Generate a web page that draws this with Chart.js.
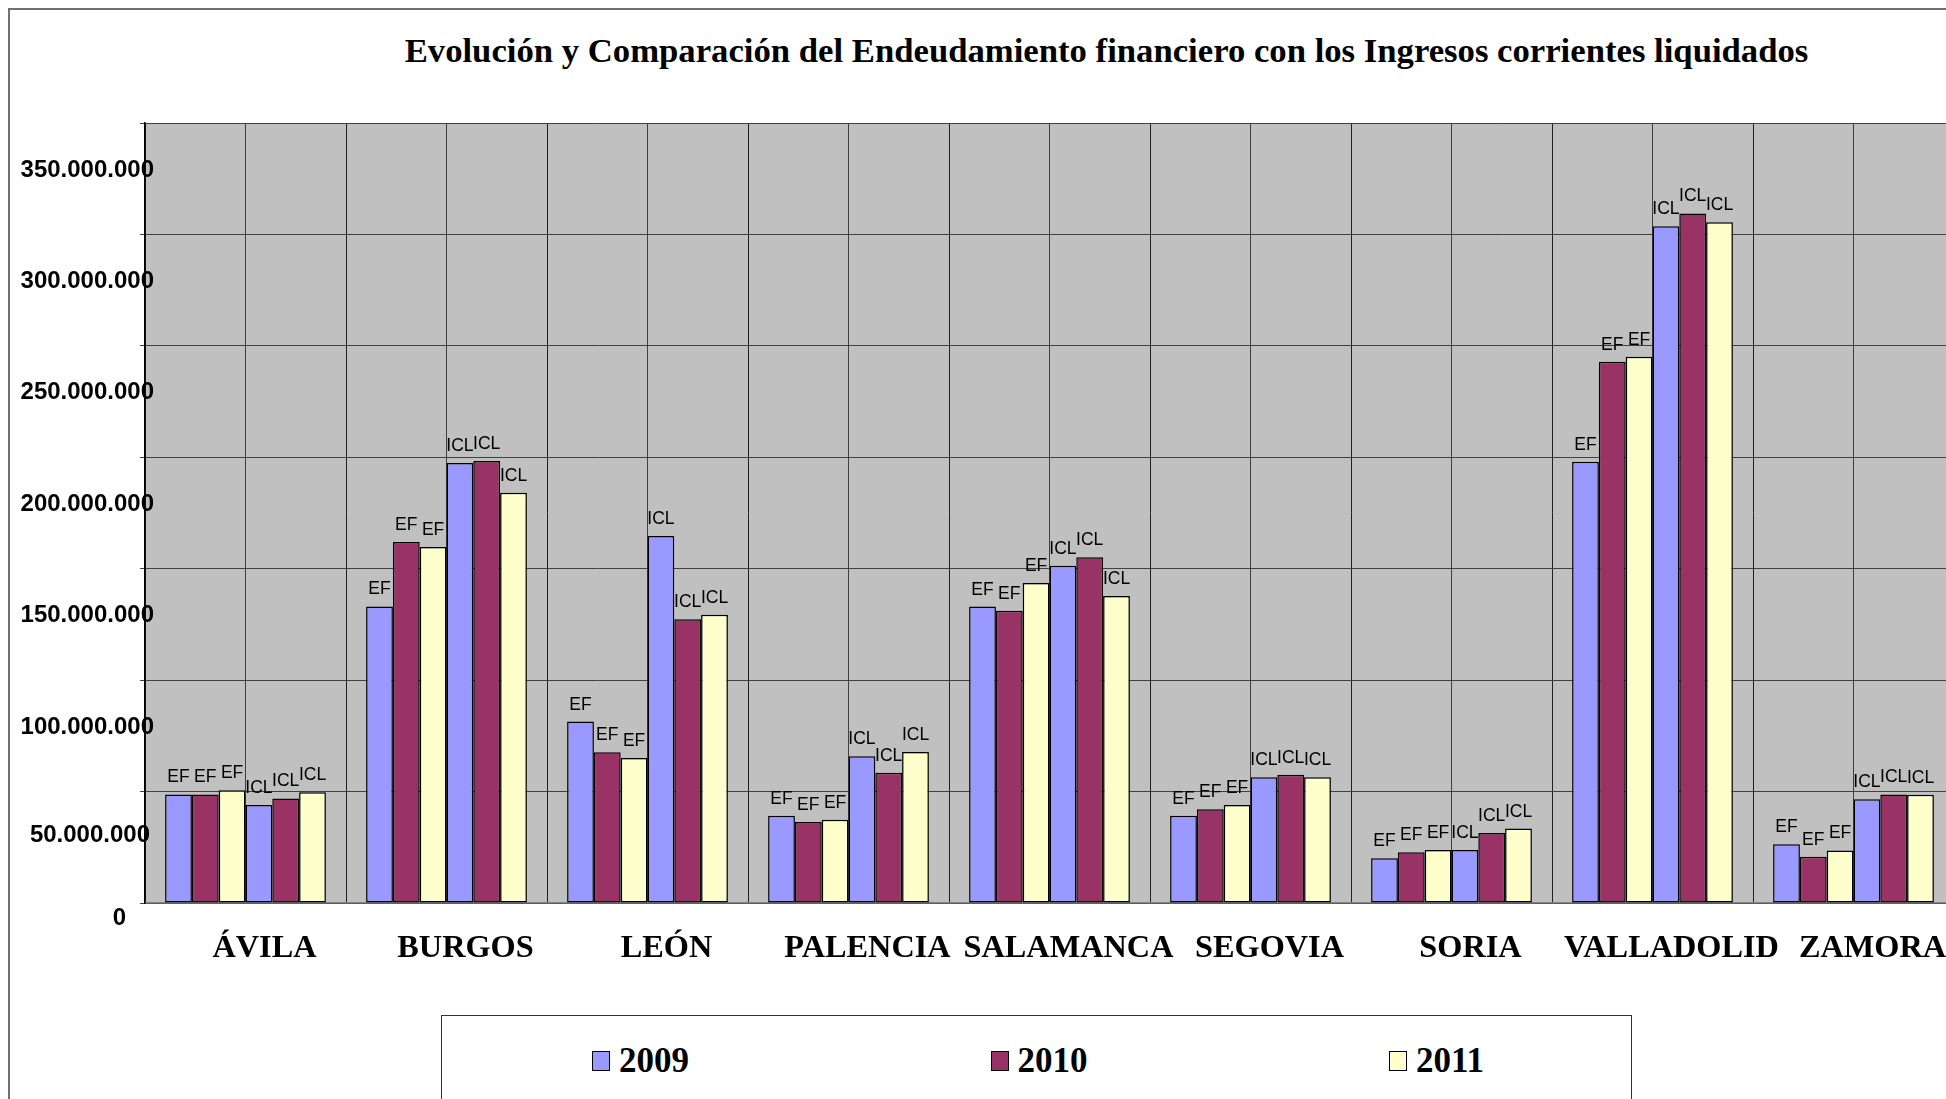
<!DOCTYPE html>
<html lang="es">
<head>
<meta charset="UTF-8">
<title>Evolución y Comparación del Endeudamiento financiero</title>
<script src="https://cdn.jsdelivr.net/npm/chart.js"></script>
<style>
    html, body { margin: 0; padding: 0; background: #fff; width: 1946px; height: 1099px; overflow: hidden; }
    #marco { position: absolute; left: 8px; top: 8px; width: 2300px; height: 1300px; border-left: 2px solid #707070; border-top: 2px solid #707070; }
    #titulo { position: absolute; left: 0; top: 31px; width: 2213px; text-align: center; line-height: 35px;
              font: bold 34.7px "Liberation Serif", "Times New Roman", serif; color: #000; white-space: nowrap; }
    canvas { position: absolute; left: 0; top: 0; }
    #leyenda { position: absolute; left: 441px; top: 1015px; width: 1191px; height: 200px; box-sizing: border-box;
               border: 1.5px solid #333; background: #fff; }
    .item { position: absolute; top: 25px; display: flex; align-items: center; line-height: 35px;
            font: bold 35px "Liberation Serif", "Times New Roman", serif; color: #000; }
    .muestra { width: 18px; height: 20px; box-sizing: border-box; border: 1.5px solid #000; margin-right: 9px; }
</style>
</head>
<body>
<div id="marco"></div>
<div id="titulo">Evolución y Comparación del Endeudamiento financiero con los Ingresos corrientes liquidados</div>
<canvas id="grafico" width="2100" height="1099"></canvas>
<div id="leyenda"></div>

<script>
    // datos (euros)
    const provincias = ['ÁVILA', 'BURGOS', 'LEÓN', 'PALENCIA', 'SALAMANCA', 'SEGOVIA', 'SORIA', 'VALLADOLID', 'ZAMORA'];
    const anios = ['2009', '2010', '2011'];
    const colores = ['#9999FF', '#993366', '#FFFFCC'];

    const ef2009 = [48700000, 133100000, 81400000, 39100000, 133000000, 39200000, 20100000, 198000000, 26400000];
    const ef2010 = [48700000, 162000000, 67600000, 36400000, 131100000, 42100000, 22800000, 242900000, 20800000];
    const ef2011 = [50600000, 159700000, 65100000, 37300000, 143600000, 44000000, 23800000, 245100000, 23600000];
    const icl2009 = [44000000, 197400000, 164700000, 65800000, 151300000, 56400000, 23800000, 303700000, 46500000];
    const icl2010 = [46900000, 198300000, 127300000, 58400000, 155200000, 57500000, 31400000, 309400000, 48700000];
    const icl2011 = [49700000, 184100000, 129300000, 67800000, 137800000, 56400000, 33400000, 305500000, 48600000];

    const ticksY = [0, 50000000, 100000000, 150000000, 200000000, 250000000, 300000000, 350000000];

    function puntos(v) {
        return String(v).replace(/\B(?=(\d{3})+(?!\d))/g, '.');
    }

    const series = [
        { tipo: 'EF', anio: 0, datos: ef2009 },
        { tipo: 'EF', anio: 1, datos: ef2010 },
        { tipo: 'EF', anio: 2, datos: ef2011 },
        { tipo: 'ICL', anio: 0, datos: icl2009 },
        { tipo: 'ICL', anio: 1, datos: icl2010 },
        { tipo: 'ICL', anio: 2, datos: icl2011 }
    ];

    // fondo gris del área de trazado
    const fondo = {
        id: 'fondo',
        beforeDraw(chart) {
            const { ctx, chartArea: a } = chart;
            ctx.save();
            ctx.fillStyle = '#C0C0C0';
            ctx.fillRect(a.left, a.top, a.right - a.left, a.bottom - a.top);
            ctx.restore();
        }
    };

    // etiquetas EF / ICL encima de cada barra
    const etiquetasBarras = {
        id: 'etiquetasBarras',
        afterDatasetsDraw(chart) {
            const ctx = chart.ctx;
            ctx.save();
            ctx.font = '17.5px "Liberation Sans", Arial, sans-serif';
            ctx.fillStyle = '#000';
            ctx.textAlign = 'center';
            ctx.textBaseline = 'alphabetic';
            chart.data.datasets.forEach((ds, i) => {
                chart.getDatasetMeta(i).data.forEach(barra => {
                    ctx.fillText(ds.tipo, barra.x, barra.y - 12);
                });
            });
            ctx.restore();
        }
    };

    // rótulos del eje Y, desplazados como en el original
    const rotulosY = {
        id: 'rotulosY',
        afterDraw(chart) {
            const y = chart.scales.y, ctx = chart.ctx;
            ctx.save();
            ctx.font = 'bold 24px "Liberation Sans", Arial, sans-serif';
            ctx.fillStyle = '#000';
            ctx.textAlign = 'right';
            ctx.textBaseline = 'alphabetic';
            ticksY.forEach(v => {
                const dy = v === 0 ? 13 : (v === 50000000 ? 42 : 45);
                const xr = v === 0 ? 126 : (v === 50000000 ? 150 : 154);
                ctx.fillText(puntos(v), xr, y.getPixelForValue(v) + dy + 8.6);
            });
            ctx.restore();
        }
    };

    new Chart(document.getElementById('grafico'), {
        type: 'bar',
        data: {
            labels: provincias,
            datasets: series.map(s => ({
                label: anios[s.anio],
                tipo: s.tipo,
                data: s.datos,
                backgroundColor: colores[s.anio],
                borderColor: '#000',
                borderWidth: 1.5,
                borderSkipped: false,
                barPercentage: 1,
                categoryPercentage: 0.8
            }))
        },
        options: {
            responsive: false,
            animation: false,
            devicePixelRatio: 1,
            layout: { padding: { left: 0, top: 123, right: 146, bottom: 0 } },
            plugins: {
                legend: { display: false },
                title: { display: false },
                tooltip: { enabled: false }
            },
            scales: {
                x: {
                    type: 'category',
                    position: 'bottom',
                    offset: true,
                    grid: { offset: true, color: '#202020', lineWidth: 1, drawTicks: false },
                    border: { display: true, color: '#808080', width: 1.5 },
                    ticks: {
                        color: '#000',
                        font: { family: '"Liberation Serif", "Times New Roman", serif', size: 32.3, weight: 'bold' },
                        padding: 26,
                        labelOffset: 19,
                        maxRotation: 0,
                        autoSkip: false
                    },
                    afterFit: s => { s.height = 196; }
                },
                x2: {
                    type: 'category',
                    labels: provincias,
                    position: 'bottom',
                    offset: true,
                    grid: { offset: false, color: '#404040', lineWidth: 1, drawTicks: false },
                    border: { display: false },
                    ticks: { display: false },
                    afterFit: s => { s.height = 0; }
                },
                y: {
                    min: 0,
                    max: 350000000,
                    ticks: { stepSize: 50000000, display: false },
                    grid: { color: '#404040', lineWidth: 1, drawTicks: true, tickLength: 5, tickColor: '#404040' },
                    border: { display: true, color: '#000', width: 1.5 },
                    afterFit: s => { s.width = 145; }
                }
            }
        },
        plugins: [fondo, etiquetasBarras, rotulosY]
    });

    // leyenda: solo los tres años
    const leyenda = document.getElementById('leyenda');
    anios.forEach((a, i) => {
        const item = document.createElement('div');
        item.className = 'item';
        item.style.left = (150 + i * 398.5) + 'px';
        const m = document.createElement('div');
        m.className = 'muestra';
        m.style.background = colores[i];
        const t = document.createElement('span');
        t.textContent = a;
        item.appendChild(m);
        item.appendChild(t);
        leyenda.appendChild(item);
    });
</script>
</body>
</html>
